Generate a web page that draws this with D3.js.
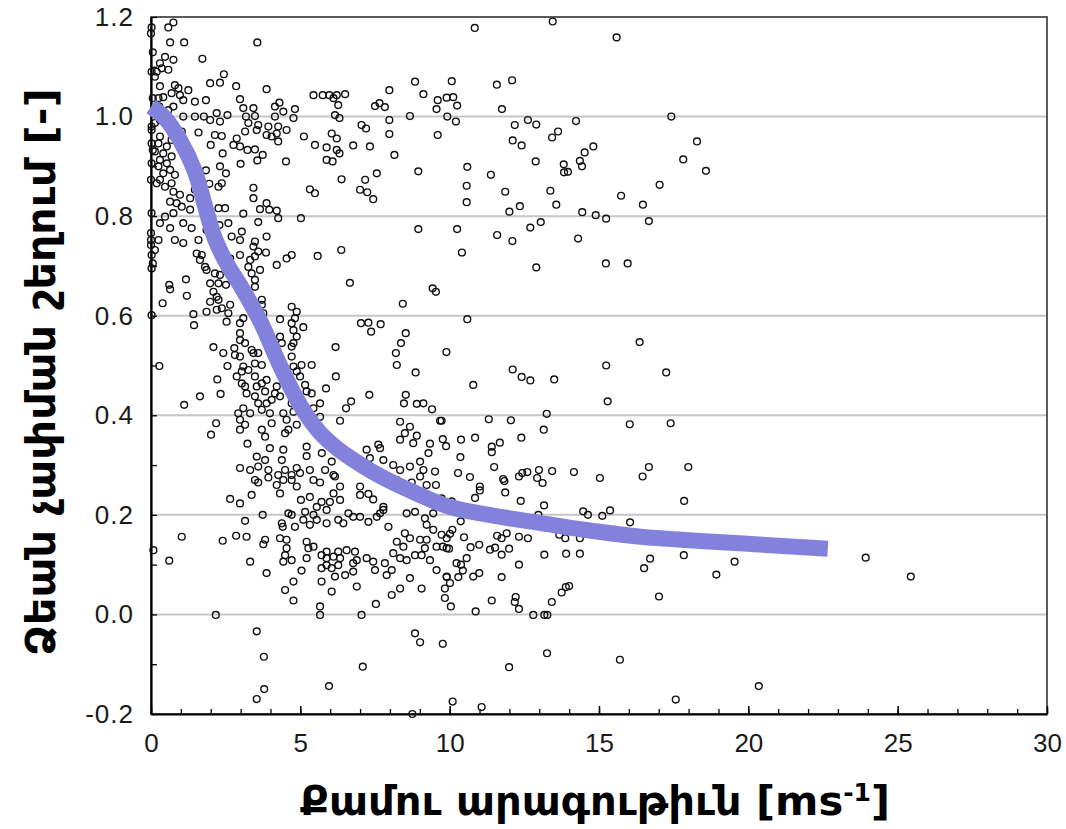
<!doctype html>
<html lang="hy">
<head>
  <meta charset="utf-8">
  <script src="https://cdnjs.cloudflare.com/ajax/libs/d3/7.8.5/d3.min.js"></script>
  <style>
    html, body { margin:0; padding:0; background:#fff; }
    #view { width:1066px; height:829px; }
    .tick text { font-family: "Liberation Sans", Arial, sans-serif; font-size:26px; fill:#1a1a1a; }
    .title { font-family: "DejaVu Sans Condensed", "DejaVu Sans", sans-serif; font-weight:bold; font-size:40px; fill:#000; }
  </style>
</head>
<body>
<div id="view"></div>
<script>
// axis ticks / labels
var xTicks = [0, 5, 10, 15, 20, 25, 30];
var xTickLabels = ["0", "5", "10", "15", "20", "25", "30"];
var yTicks = [-0.2, 0.0, 0.2, 0.4, 0.6, 0.8, 1.0, 1.2];
var yTickLabels = ["-0.2", "0.0", "0.2", "0.4", "0.6", "0.8", "1.0", "1.2"];
var gridValues = [0.0, 0.2, 0.4, 0.6, 0.8, 1.0];

// fitted curve [wind speed, catch ratio]
var fitSpeed = [0, 0.47, 0.97, 1.47, 1.81, 2.14, 2.58, 3.0, 3.65, 4.32, 5.0, 5.66, 6.2, 6.66, 7.67, 9.0, 10.0, 11.5, 13.0, 14.5, 16.4, 18.0, 19.7, 21.0, 22.66];
var fitRatio = [1.02, 0.997, 0.953, 0.89, 0.82, 0.755, 0.70, 0.66, 0.59, 0.50, 0.42, 0.365, 0.335, 0.315, 0.278, 0.24, 0.216, 0.198, 0.184, 0.170, 0.156, 0.149, 0.143, 0.138, 0.132];

// observations [wind speed, catch ratio], grouped by area of the plot
var obsTopLeft = [[0.02,1.179],[0,1.167],[0.06,1.129],[0.02,1.09],[0.06,1.037],[0.02,0.98],[0.02,0.973],[0.02,0.946],[0.06,0.933],[0.02,0.906],[0,0.873],[0.02,0.806],[0,0.766],[0,0.752],[0,0.742],
[0.58,1.179],[0.75,1.189],[0.64,1.149],[1.11,1.149],[3.56,1.149],[1.72,1.116],[0.47,1.12],[0.75,1.114],[0.3,1.107],[0.19,1.09],[0.36,1.097],[0.58,1.094],[0.13,1.08],[0.3,1.061],[0.8,1.063],[0.92,1.057],[1.25,1.053],[0.69,1.047],[0.97,1.043],[0.41,1.039],[0.25,1.037],[1.08,1.033],[1.47,1.03],[1.84,1.033],[1.98,1.067],[2.31,1.068],[2.44,1.085],[2.85,1.061],[3.87,1.055],[0.75,1.02],[0.58,1.013],[1.08,1.0],[1.47,1.0],[1.77,1.0],[2.2,1.007],[2.56,1.003],[2.31,0.99],[1.98,0.993],[2.98,1.035],[3.09,1.017],[3.43,1.017],[3.18,1.0],[3.48,1.001],[4.15,1.02],[4.3,1.028],[4.43,1.01],[4.82,1.015],[4.77,0.997],[4.15,1.0],[4.26,0.98],[3.93,0.98],[3.59,0.983],[3.26,0.987],[3.15,0.97],[3.54,0.973],[3.87,0.963],[4.04,0.96],[4.26,0.95],[4.54,0.973],[4.21,0.966],[2.87,0.956],[2.37,0.961],[2.14,0.963],[1.59,0.968],[2.0,0.943],[2.4,0.926],[2.76,0.943],[2.98,0.94],[3.23,0.933],[3.48,0.934],[3.74,0.923],[3.56,0.912],[3.0,0.905],[4.52,0.91],[5.12,0.96],[5.49,0.943],[5.44,1.043],[5.75,1.043],[5.97,1.043],[6.22,1.043],[6.5,1.045],[6.11,1.037],[6.27,1.023],[6.16,1.003],[6.31,0.997],[5.88,0.938],[6.22,0.933],[6.31,0.926],[5.88,0.913],[6.08,0.91],[6.05,0.966],[6.22,0.956],[7.05,0.983],[7.2,0.976],[6.77,0.942],[7.33,0.94],[7.98,1.053],[7.98,0.993],[7.98,0.965],[8.15,0.923],[7.5,1.021],[7.65,1.027],[7.83,1.019],[8.84,1.07],[9.12,1.045],[8.67,1.001],[9.6,1.033],[9.56,1.015],[9.6,0.963],[8.95,0.89],[8.95,0.774],[5.02,0.796],[6.38,0.874],[7.17,0.873],[7.56,0.886],[7.0,0.853],[7.24,0.848],[7.44,0.834],[5.32,0.854],[5.49,0.846],[3.43,0.857],[3.43,0.836],[3.65,0.814],[3.87,0.826],[3.96,0.813],[4.21,0.811],[4.26,0.796],[3.59,0.788],[3.09,0.805],[3.04,0.769],[2.59,0.786],[2.29,0.782],[2.26,0.816],[2.48,0.816],[2.51,0.886],[2.37,0.866],[2.31,0.9],[1.84,0.892],[1.95,0.865],[2.26,0.859],[1.81,0.846],[1.47,0.853],[1.31,0.836],[0.97,0.843],[0.75,0.849],[0.47,0.859],[0.3,0.873],[0.19,0.866],[0.41,0.886],[0.64,0.893],[0.8,0.883],[0.25,0.9],[0.3,0.913],[0.53,0.906],[0.69,0.92],[0.41,0.926],[0.13,0.93],[0.25,0.946],[0.53,0.94],[0.69,0.953],[0.3,0.96],[0.13,0.987],[0.3,0.993],[0.19,1.013],[0.28,1.02],[0.53,0.983],[0.86,0.977],[1.03,0.97],[0.69,0.866],[1.03,0.819],[0.75,0.806],[0.47,0.799],[0.64,0.776],[0.3,0.786],[0.25,0.752],[0.8,0.752],[1.08,0.746],[1.36,0.776],[1.59,0.752],[1.86,0.772],[2.2,0.746],[2.7,0.759],[2.98,0.752],[3.48,0.749],[3.87,0.759],[1.08,0.786],[0.86,0.826],[0.64,0.829],[1.31,0.813]];

var obsMidLeft = [[0.02,0.722],[0.06,0.705],[0.02,0.695],[0.13,0.732],[0.61,0.662],[0.64,0.653],[0.39,0.625],[1.17,0.673],[1.2,0.64],[1.42,0.603],[1.44,0.581],[0.02,0.601],[0.28,0.499],[1.11,0.421],[1.64,0.438],[2.18,0.384],[2.01,0.361],[2.22,0.472],[2.33,0.443],[2.09,0.537],[2.42,0.525],[2.56,0.499],[2.79,0.535],[2.81,0.521],[2.98,0.518],[2.87,0.478],[3.04,0.464],[2.92,0.404],[2.98,0.391],[3.15,0.381],[2.98,0.371],[3.23,0.343],[3.32,0.404],[3.09,0.414],[3.2,0.444],[3.15,0.458],[3.04,0.488],[3.09,0.498],[3.26,0.491],[3.48,0.504],[3.43,0.525],[3.15,0.545],[2.98,0.551],[3.37,0.531],[3.59,0.525],[3.71,0.501],[3.48,0.478],[3.54,0.458],[3.71,0.464],[3.87,0.471],[3.82,0.448],[3.48,0.438],[3.59,0.424],[3.71,0.411],[3.87,0.424],[4.04,0.431],[4.21,0.458],[4.15,0.444],[3.98,0.404],[4.04,0.384],[3.71,0.371],[3.82,0.357],[4.32,0.438],[4.43,0.404],[4.54,0.391],[4.6,0.371],[4.49,0.364],[4.88,0.381],[4.77,0.407],[5.04,0.411],[4.71,0.424],[4.88,0.438],[5.16,0.461],[5.21,0.448],[5.38,0.444],[4.99,0.478],[4.88,0.488],[4.77,0.498],[4.71,0.518],[4.77,0.545],[5.04,0.501],[5.38,0.501],[4.71,0.538],[4.88,0.558],[4.77,0.571],[4.71,0.585],[4.82,0.595],[4.88,0.608],[4.71,0.618],[5.1,0.577],[4.32,0.558],[4.38,0.545],[4.32,0.593],[2.98,0.565],[2.98,0.585],[3.09,0.595],[2.59,0.605],[2.53,0.588],[2.65,0.622],[2.37,0.615],[2.2,0.612],[2.26,0.632],[2.09,0.648],[1.98,0.665],[1.98,0.628],[1.86,0.608],[2.2,0.638],[1.81,0.698],[1.64,0.712],[1.53,0.725],[1.7,0.722],[1.86,0.692],[2.14,0.685],[2.31,0.682],[2.51,0.662],[2.26,0.665],[2.42,0.732],[2.65,0.715],[2.98,0.722],[3.32,0.712],[3.48,0.719],[3.59,0.729],[3.43,0.739],[3.65,0.692],[3.37,0.685],[3.26,0.698],[3.48,0.672],[3.48,0.658],[3.71,0.632],[3.76,0.605],[3.71,0.622],[4.21,0.702],[4.54,0.715],[4.71,0.722],[3.85,0.727],[5.58,0.72],[6.37,0.732],[6.66,0.666],[8.43,0.624],[9.43,0.655],[9.54,0.648],[7.03,0.585],[7.28,0.586],[7.69,0.583],[7.37,0.568],[8.53,0.565],[8.37,0.545],[8.2,0.525],[8.23,0.501],[8.86,0.486],[6.18,0.537],[6.19,0.478],[5.86,0.454],[5.66,0.424],[5.44,0.414],[6.33,0.389],[5.66,0.397],[6.7,0.428],[6.53,0.414],[7.31,0.441],[8.53,0.441],[8.47,0.424],[8.9,0.423],[9.12,0.424],[9.41,0.412],[9.68,0.389],[8.34,0.387],[8.67,0.377],[8.5,0.364],[8.34,0.351],[8.78,0.344],[8.9,0.359],[9.34,0.343],[9.29,0.324],[6.16,0.345],[5.21,0.337],[5.21,0.318],[4.43,0.331],[4.38,0.31],[4.49,0.29],[4.88,0.294],[5.32,0.29],[5.72,0.324],[6.05,0.307],[7.22,0.331],[7.33,0.314],[7.61,0.341],[7.67,0.334],[7.78,0.31],[8.11,0.3],[8.34,0.29],[8.67,0.297],[9.01,0.307],[9.12,0.29],[9.51,0.287],[6.11,0.28],[5.83,0.29],[3.98,0.334],[3.82,0.31],[3.93,0.29],[3.54,0.317],[3.59,0.297],[3.32,0.29],[2.98,0.294],[4.26,0.28],[4.71,0.28],[4.99,0.284]];

var obsLowLeft = [[3.48,0.27],[3.59,0.265],[3.93,0.275],[4.21,0.26],[4.32,0.243],[4.43,0.27],[4.71,0.27],[4.88,0.257],[5.44,0.27],[5.66,0.265],[6.16,0.277],[6.33,0.257],[6.11,0.243],[5.99,0.226],[6.33,0.23],[7.0,0.257],[7.28,0.242],[7.0,0.24],[7.44,0.231],[7.78,0.216],[7.67,0.203],[7.95,0.277],[8.23,0.27],[8.73,0.265],[9.01,0.277],[9.23,0.26],[9.54,0.26],[9.73,0.233],[9.95,0.22],[2.65,0.232],[2.98,0.223],[3.37,0.24],[5.02,0.23],[5.32,0.236],[5.55,0.216],[5.71,0.226],[5.88,0.21],[5.16,0.206],[5.44,0.2],[4.6,0.203],[4.71,0.2],[4.38,0.183],[4.41,0.176],[4.82,0.176],[5.1,0.19],[5.32,0.18],[5.55,0.19],[5.88,0.183],[6.27,0.19],[6.44,0.183],[6.77,0.196],[6.61,0.203],[7.0,0.196],[7.28,0.186],[7.56,0.196],[7.78,0.21],[7.95,0.176],[8.56,0.203],[8.84,0.206],[9.17,0.193],[9.45,0.203],[9.23,0.18],[9.45,0.17],[9.73,0.16],[9.9,0.153],[8.5,0.163],[8.67,0.153],[9.01,0.15],[9.17,0.133],[9.23,0.15],[9.56,0.136],[9.9,0.133],[8.23,0.146],[8.45,0.136],[8.11,0.123],[8.34,0.113],[8.56,0.109],[8.84,0.119],[9.06,0.119],[9.34,0.109],[9.56,0.089],[9.9,0.076],[9.84,0.052],[9.06,0.052],[8.67,0.073],[8.34,0.052],[8.06,0.039],[7.89,0.079],[8.06,0.089],[7.83,0.103],[7.5,0.089],[7.22,0.113],[7.44,0.106],[6.89,0.109],[6.77,0.103],[6.77,0.086],[6.5,0.079],[6.16,0.076],[6.05,0.093],[6.27,0.099],[5.88,0.099],[5.71,0.093],[5.71,0.066],[6.05,0.046],[6.89,0.056],[4.77,0.066],[4.49,0.049],[4.77,0.028],[5.04,0.088],[4.71,0.109],[4.43,0.106],[4.49,0.119],[4.54,0.133],[4.32,0.153],[4.54,0.15],[5.21,0.146],[5.27,0.133],[5.44,0.136],[5.21,0.113],[5.71,0.119],[5.88,0.126],[5.88,0.113],[6.11,0.116],[6.33,0.113],[6.27,0.126],[6.55,0.129],[6.83,0.126],[3.82,0.15],[3.76,0.141],[3.87,0.083],[3.32,0.106],[3.2,0.156],[2.85,0.158],[2.4,0.148],[1.03,0.156],[0.61,0.108],[0.08,0.129],[3.15,0.188],[3.74,0.2],[5.66,0.016],[5.66,-0.001],[2.17,-0.001],[7.05,-0.001],[7.53,0.021],[3.54,-0.034],[3.78,-0.085],[7.09,-0.105],[5.96,-0.144],[3.79,-0.15],[3.54,-0.17],[8.84,-0.038],[9.01,-0.056],[8.75,-0.2]];

var obsTopRight = [[10.84,1.178],[13.45,1.191],[15.59,1.159],[10.07,1.071],[11.58,1.064],[12.09,1.073],[9.9,1.038],[10.12,1.039],[10.25,1.022],[11.75,1.015],[9.92,1.0],[10.21,0.99],[12.18,0.983],[12.62,0.993],[12.9,0.984],[14.23,0.991],[17.42,1.0],[12.11,0.952],[12.41,0.942],[13.43,0.958],[13.63,0.97],[14.81,0.94],[14.52,0.928],[14.36,0.911],[14.43,0.9],[13.82,0.904],[13.83,0.888],[13.96,0.889],[12.88,0.91],[10.59,0.899],[11.38,0.883],[10.57,0.861],[11.86,0.849],[13.37,0.851],[10.57,0.828],[12.0,0.809],[12.35,0.82],[13.57,0.823],[15.74,0.841],[16.47,0.823],[17.03,0.863],[17.82,0.914],[18.28,0.95],[18.58,0.891],[14.44,0.808],[14.89,0.802],[15.24,0.795],[16.67,0.79],[13.05,0.788],[12.7,0.777],[10.25,0.774],[11.59,0.762],[12.1,0.75],[14.3,0.755]];

var obsMidRight = [[10.41,0.727],[12.9,0.697],[15.23,0.705],[15.96,0.705],[10.59,0.593],[9.89,0.527],[16.36,0.547],[12.11,0.492],[12.41,0.477],[12.7,0.47],[13.5,0.472],[10.79,0.461],[15.24,0.5],[17.25,0.486],[15.29,0.428],[13.25,0.403],[11.31,0.392],[12.05,0.39],[9.73,0.389],[13.15,0.371],[16.03,0.382],[17.4,0.384],[9.77,0.352],[10.38,0.351],[10.85,0.355],[9.88,0.338],[11.41,0.337],[11.68,0.345],[11.41,0.326],[12.4,0.355],[10.36,0.316],[11.49,0.296],[10.28,0.284],[10.68,0.276],[11.79,0.272],[12.32,0.277],[12.43,0.284],[12.6,0.286],[12.99,0.29],[13.43,0.288],[14.16,0.286],[15.03,0.274],[16.67,0.296],[17.99,0.296],[16.46,0.277],[12.93,0.274]];

var obsLowRight = [[11.01,0.257],[11.01,0.249],[10.85,0.234],[11.83,0.268],[11.86,0.245],[13.11,0.264],[12.38,0.228],[10.07,0.227],[13.16,0.219],[12.97,0.2],[14.47,0.207],[14.63,0.2],[15.11,0.198],[15.37,0.209],[16.04,0.185],[17.85,0.228],[10.37,0.187],[10.09,0.17],[10.01,0.162],[9.77,0.136],[9.98,0.132],[10.48,0.155],[10.99,0.14],[10.7,0.135],[11.59,0.158],[11.74,0.153],[11.91,0.163],[12.32,0.156],[12.62,0.153],[11.99,0.132],[11.52,0.134],[11.35,0.13],[11.74,0.12],[12.32,0.1],[13.17,0.12],[13.9,0.122],[14.36,0.122],[13.67,0.16],[13.87,0.153],[14.36,0.153],[10.57,0.113],[10.38,0.1],[10.23,0.103],[10.44,0.088],[10.79,0.076],[10.99,0.083],[9.9,0.075],[10.29,0.075],[10.01,0.063],[9.84,0.033],[10.04,0.016],[10.87,0.006],[11.41,0.028],[11.74,0.075],[12.21,0.035],[12.18,0.025],[12.32,0.011],[12.8,-0.001],[13.17,-0.001],[13.27,-0.001],[13.42,0.025],[13.75,0.044],[14.0,0.057],[13.89,0.055],[16.51,0.093],[16.71,0.112],[17.84,0.119],[17.01,0.036],[18.93,0.08],[19.54,0.106],[9.77,-0.059],[11.99,-0.106],[13.26,-0.078],[15.7,-0.091],[10.1,-0.175],[11.07,-0.186],[17.57,-0.171]];

var obsFar = [[23.93,0.114],[25.44,0.076],[20.35,-0.144]];

var svg = d3.select('#view').append('svg')
    .attr('width', 1066)
    .attr('height', 829);

var plotLeft = 151, plotRight = 1047, plotTop = 17, plotBottom = 714;
var x = d3.scaleLinear().domain([0, 30]).range([plotLeft, plotRight]);
var y = d3.scaleLinear().domain([-0.2, 1.2]).range([plotBottom, plotTop]);

// grid
svg.append('g').selectAll('line').data(gridValues).enter().append('line')
    .attr('x1', plotLeft).attr('x2', plotRight)
    .attr('y1', function(d){ return y(d); })
    .attr('y2', function(d){ return y(d); })
    .attr('stroke', '#c6c6c6').attr('stroke-width', 2);

// frame
svg.append('rect')
    .attr('x', plotLeft).attr('y', plotTop)
    .attr('width', plotRight - plotLeft).attr('height', plotBottom - plotTop)
    .attr('fill', 'none').attr('stroke', '#333').attr('stroke-width', 1.6);

// minor ticks (inward)
svg.append('g').attr('transform', 'translate(0,' + plotBottom + ')')
    .call(d3.axisBottom(x).tickValues(d3.range(0, 31, 1)).tickSizeInner(-5).tickSizeOuter(0).tickFormat(''))
    .call(function(g){ g.selectAll('line').attr('stroke', '#000').attr('stroke-width', 1.3); g.select('.domain').remove(); });
svg.append('g').attr('transform', 'translate(' + plotLeft + ',0)')
    .call(d3.axisLeft(y).tickValues(d3.range(-2, 13, 1).map(function(v){ return v / 10; })).tickSizeInner(-6).tickSizeOuter(0).tickFormat(''))
    .call(function(g){ g.selectAll('line').attr('stroke', '#000').attr('stroke-width', 1.3); g.select('.domain').remove(); });

// major axes with labels
var xAxis = svg.append('g').attr('transform', 'translate(0,' + plotBottom + ')')
    .call(d3.axisBottom(x).tickValues(xTicks).tickSizeInner(-8).tickSizeOuter(0).tickPadding(20)
      .tickFormat(function(d, i){ return xTickLabels[i]; }));
xAxis.select('.domain').attr('stroke', '#000').attr('stroke-width', 2.2);
xAxis.selectAll('line').attr('stroke', '#000').attr('stroke-width', 1.5);

var yAxis = svg.append('g').attr('transform', 'translate(' + plotLeft + ',0)')
    .call(d3.axisLeft(y).tickValues(yTicks).tickSizeInner(0).tickSizeOuter(0).tickPadding(17)
      .tickFormat(function(d, i){ return yTickLabels[i]; }));
yAxis.select('.domain').attr('stroke', '#000').attr('stroke-width', 2.2);
yAxis.selectAll('text').attr('letter-spacing', 1);

// observations
var obs = obsTopLeft.concat(obsMidLeft, obsLowLeft, obsTopRight, obsMidRight, obsLowRight, obsFar);
svg.append('g').selectAll('circle').data(obs).enter().append('circle')
    .attr('cx', function(d){ return x(d[0]); })
    .attr('cy', function(d){ return y(d[1]); })
    .attr('r', 3.4)
    .attr('fill', 'none')
    .attr('stroke', '#111')
    .attr('stroke-width', 1.4);

// fitted curve
var fit = fitSpeed.map(function(s, i){ return [s, fitRatio[i]]; });
svg.append('path').datum(fit)
    .attr('d', d3.line().x(function(d){ return x(d[0]); }).y(function(d){ return y(d[1]); }).curve(d3.curveCatmullRom.alpha(0.5)))
    .attr('fill', 'none')
    .attr('stroke', '#8282dd')
    .attr('stroke-width', 16)
    .attr('stroke-linecap', 'butt');

// titles
var xTitle = svg.append('text').attr('class', 'title')
    .attr('x', 595).attr('y', 815)
    .attr('text-anchor', 'middle')
    .attr('textLength', 590).attr('lengthAdjust', 'spacingAndGlyphs');
xTitle.append('tspan').text('Քամու արագութիւն [ms');
xTitle.append('tspan').attr('dy', -14).attr('font-size', 24).text('-1');
xTitle.append('tspan').attr('dy', 14).text(']');

svg.append('text').attr('class', 'title')
    .attr('transform', 'translate(55,372) rotate(-90)')
    .attr('text-anchor', 'middle')
    .attr('textLength', 568).attr('lengthAdjust', 'spacingAndGlyphs')
    .text('Ձեան չափման շեղում [-]');
</script>
</body>
</html>
